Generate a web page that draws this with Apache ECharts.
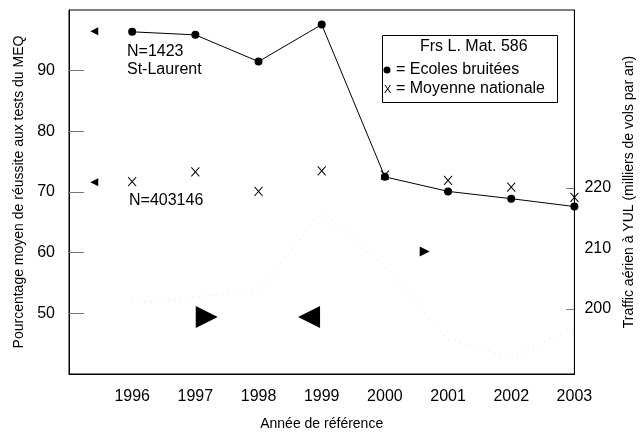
<!DOCTYPE html>
<html>
<head>
<meta charset="utf-8">
<script src="https://cdn.jsdelivr.net/npm/echarts@6/dist/echarts.min.js"></script>
<style>
  html, body { margin: 0; padding: 0; background: #fff; }
  #chart { width: 644px; height: 436px; }
</style>
</head>
<body>
<div id="chart"></div>
<script>
// annees
var years = [1996, 1997, 1998, 1999, 2000, 2001, 2002, 2003];
// ecoles bruitees (St-Laurent)
var ecoles = [96.4, 95.9, 91.5, 97.6, 72.5, 70.1, 68.9, 67.6];
// moyenne nationale
var nationale = [71.7, 73.3, 70.1, 73.5, 72.8, 71.9, 70.8, 69.1];
// trafic YUL (trace pale)
var trafic = [201, 202, 203, 216, 207, 195, 192, 197];
// fleches triangulaires
var flechesGauche = [[1995.4, 96.5], [1995.4, 71.6]];
var grandeDroite = [[1997.18, 49.4]];
var grandeGauche = [[1998.8, 49.4]];
var petiteDroite = [[2000.63, 60.2]];
// graduations
var yLabels = [50, 60, 70, 80, 90];
var y2Labels = [200, 210, 220];
var y2Ticks = [200, 220];

var font = 'Liberation Sans, Arial, sans-serif';
var chart = echarts.init(document.getElementById('chart'));

function pairs(vals) {
    return years.map(function (y, i) { return [y, vals[i]]; });
}

function tri(data, rot, size) {
    return {
        type: 'scatter', data: data,
        symbol: 'triangle', symbolRotate: rot, symbolSize: size,
        itemStyle: { color: '#000', opacity: 1 }
    };
}

var option = {
    animation: false,
    backgroundColor: '#fff',
    textStyle: { fontFamily: font },
    grid: {
        left: 69, right: 61, top: 10, bottom: 62,
        show: true, borderColor: '#000', borderWidth: 1
    },
    xAxis: {
        type: 'value', min: 1995, max: 2003, interval: 1,
        name: 'Année de référence', nameLocation: 'middle', nameGap: 43,
        nameTextStyle: { fontSize: 14, color: '#000', fontFamily: font },
        axisLine: { lineStyle: { color: '#000', width: 1 } },
        axisTick: { show: false },
        splitLine: { show: false },
        axisLabel: {
            fontSize: 16, color: '#000', margin: 15, fontFamily: font,
            formatter: function (v) { return years.indexOf(v) >= 0 ? String(v) : ''; }
        }
    },
    yAxis: [{
        type: 'value', min: 40, max: 100, interval: 10,
        name: 'Pourcentage moyen de réussite aux tests du MEQ',
        nameLocation: 'middle', nameGap: 41, nameRotate: 90,
        nameTextStyle: { fontSize: 14, color: '#000', fontFamily: font },
        axisLine: { show: true, lineStyle: { color: '#000' } },
        axisTick: { show: true, inside: true, length: 15, customValues: yLabels,
            lineStyle: { color: '#777' } },
        splitLine: { show: false },
        axisLabel: { fontSize: 16, color: '#000', margin: 14, fontFamily: font,
            customValues: yLabels }
    }, {
        type: 'value', min: 189.3, max: 249.3, position: 'right',
        name: 'Traffic aérien à YUL (milliers de vols par an)',
        nameLocation: 'middle', nameGap: 38, nameRotate: 90,
        nameTextStyle: { fontSize: 14, color: '#000', fontFamily: font },
        axisLine: { show: true, lineStyle: { color: '#000' } },
        axisTick: { show: true, inside: true, length: 8, customValues: y2Ticks,
            lineStyle: { color: '#777' } },
        splitLine: { show: false },
        axisLabel: { fontSize: 16, color: '#000', margin: 10, fontFamily: font,
            customValues: y2Labels }
    }],
    series: [{
        type: 'line', yAxisIndex: 1, data: pairs(trafic),
        symbol: 'none',
        lineStyle: { color: '#dedede', width: 1, type: [1, 5] },
        z: 1
    }, {
        type: 'line', data: pairs(ecoles),
        symbol: 'circle', symbolSize: 8,
        itemStyle: { color: '#000' },
        lineStyle: { color: '#000', width: 1 },
        z: 3
    }, {
        type: 'scatter', data: pairs(nationale),
        symbol: 'path://M0,0L10,10M10,0L0,10', symbolSize: [8, 9],
        itemStyle: { color: 'none', borderColor: '#000', borderWidth: 1, opacity: 1 },
        z: 4
    },
        tri(flechesGauche, 90, 8),
        tri(grandeDroite, -90, 22),
        tri(grandeGauche, 90, 22),
        tri(petiteDroite, -90, 10)
    ],
    graphic: [
        { type: 'text', left: 127, top: 44, style: { text: 'N=1423', font: '16px ' + font, fill: '#000' } },
        { type: 'text', left: 127, top: 62, style: { text: 'St-Laurent', font: '16px ' + font, fill: '#000' } },
        { type: 'text', left: 129, top: 193, style: { text: 'N=403146', font: '16px ' + font, fill: '#000' } },
        { type: 'rect', left: 382, top: 35, shape: { width: 175, height: 67 },
          style: { fill: '#fff', stroke: '#000', lineWidth: 1 }, z: 10 },
        { type: 'text', left: 420, top: 39, z: 11,
          style: { text: 'Frs L. Mat. 586', font: '16px ' + font, fill: '#000' } },
        { type: 'circle', shape: { cx: 387, cy: 70, r: 3.5 }, style: { fill: '#000' }, z: 11 },
        { type: 'text', left: 396, top: 62, z: 11,
          style: { text: '= Ecoles bruitées', font: '16px ' + font, fill: '#000' } },
        { type: 'text', left: 384, top: 84, z: 11,
          style: { text: 'X', font: '11px ' + font, fill: '#000' } },
        { type: 'text', left: 396, top: 81, z: 11,
          style: { text: '= Moyenne nationale', font: '16px ' + font, fill: '#000' } }
    ]
};
chart.setOption(option);
</script>
</body>
</html>
